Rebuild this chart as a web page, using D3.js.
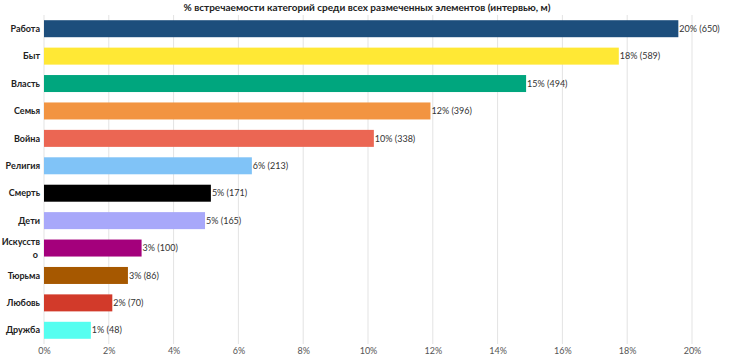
<!DOCTYPE html>
<html>
<head>
<meta charset="utf-8">
<script src="https://cdn.jsdelivr.net/npm/d3@7"></script>
<style>
  body { margin: 0; background: #fff; }
  svg text { font-family: Lato, "Open Sans", sans-serif; }
</style>
</head>
<body>
<div id="chart"></div>
<script>
// categories, counts, colors
var categories = ["Работа", "Быт", "Власть", "Семья", "Война", "Религия", "Смерть", "Дети", "Искусство", "Тюрьма", "Любовь", "Дружба"];
var counts = [650, 589, 494, 396, 338, 213, 171, 165, 100, 86, 70, 48];
var colors = ["#1d4e7c", "#ffe835", "#00a67e", "#f29441", "#eb6653", "#80c3f7", "#000000", "#a8a8fa", "#a4007c", "#a65800", "#d23a2a", "#55fef0"];
var tickValues = [0, 0.02, 0.04, 0.06, 0.08, 0.10, 0.12, 0.14, 0.16, 0.18, 0.20];

var svgWidth = 730, svgHeight = 361;
var margin = { top: 15, right: 38, bottom: 17, left: 44 };
var width = svgWidth - margin.left - margin.right;
var height = svgHeight - margin.top - margin.bottom;

var total = d3.sum(counts);
var data = categories.map(function(c, i) {
  return { cat: c, count: counts[i], share: counts[i] / total, color: colors[i] };
});

var svg = d3.select("#chart").append("svg")
  .attr("width", svgWidth)
  .attr("height", svgHeight);

svg.append("text")
  .attr("x", 367)
  .attr("y", 11)
  .attr("text-anchor", "middle")
  .attr("font-size", "10px")
  .attr("font-weight", "bold")
  .attr("fill", "#222")
  .text("% встречаемости категорий среди всех размеченных элементов (интервью, м)");

var chartGroup = svg.append("g")
  .attr("transform", `translate(${margin.left}, ${margin.top})`);

var xScale = d3.scaleLinear().domain([0, 0.20]).range([0, width]);
var yScale = d3.scaleBand().domain(categories).range([0, height]).paddingInner(0.38).paddingOuter(0.19);

// gridlines
chartGroup.selectAll("line.grid")
  .data(tickValues)
  .enter()
  .append("line")
  .attr("class", "grid")
  .attr("x1", d => xScale(d))
  .attr("x2", d => xScale(d))
  .attr("y1", 0)
  .attr("y2", height)
  .attr("stroke", "#e3e3e3")
  .attr("stroke-width", 1);

// x axis
var xAxis = d3.axisBottom(xScale).tickValues(tickValues).tickSize(0).tickPadding(4)
  .tickFormat(d => Math.round(d * 100) + "%");
var xg = chartGroup.append("g")
  .attr("transform", `translate(0, ${height})`)
  .call(xAxis);
xg.select(".domain").remove();
xg.selectAll("text").attr("font-size", "9px").attr("fill", "#555")
  .style("font-family", "Lato, sans-serif");

// bars
chartGroup.selectAll("rect.bar")
  .data(data)
  .enter()
  .append("rect")
  .attr("class", "bar")
  .attr("x", 0)
  .attr("y", d => yScale(d.cat))
  .attr("width", d => xScale(d.share))
  .attr("height", yScale.bandwidth())
  .attr("fill", d => d.color);

// value labels
chartGroup.selectAll("text.val")
  .data(data)
  .enter()
  .append("text")
  .attr("class", "val")
  .attr("x", d => xScale(d.share) + 1)
  .attr("y", d => yScale(d.cat) + yScale.bandwidth() / 2)
  .attr("dy", "0.35em")
  .attr("font-size", "9px")
  .attr("fill", "#333")
  .text(d => Math.round(d.share * 100) + "% (" + d.count + ")");

// category labels (wrap long ones)
var catLabels = chartGroup.selectAll("text.cat")
  .data(data)
  .enter()
  .append("text")
  .attr("class", "cat")
  .attr("x", -4)
  .attr("y", d => yScale(d.cat) + yScale.bandwidth() / 2)
  .attr("text-anchor", "end")
  .attr("font-size", "9px")
  .attr("font-weight", "bold")
  .attr("fill", "#222");

catLabels.each(function(d) {
  var el = d3.select(this);
  if (d.cat.length > 8) {
    el.append("tspan").attr("x", -4).attr("dy", "-0.3em").text(d.cat.slice(0, 8));
    el.append("tspan").attr("x", -6).attr("dy", "1.45em").text(d.cat.slice(8));
  } else {
    el.attr("dy", "0.35em").text(d.cat);
  }
});
</script>
</body>
</html>
